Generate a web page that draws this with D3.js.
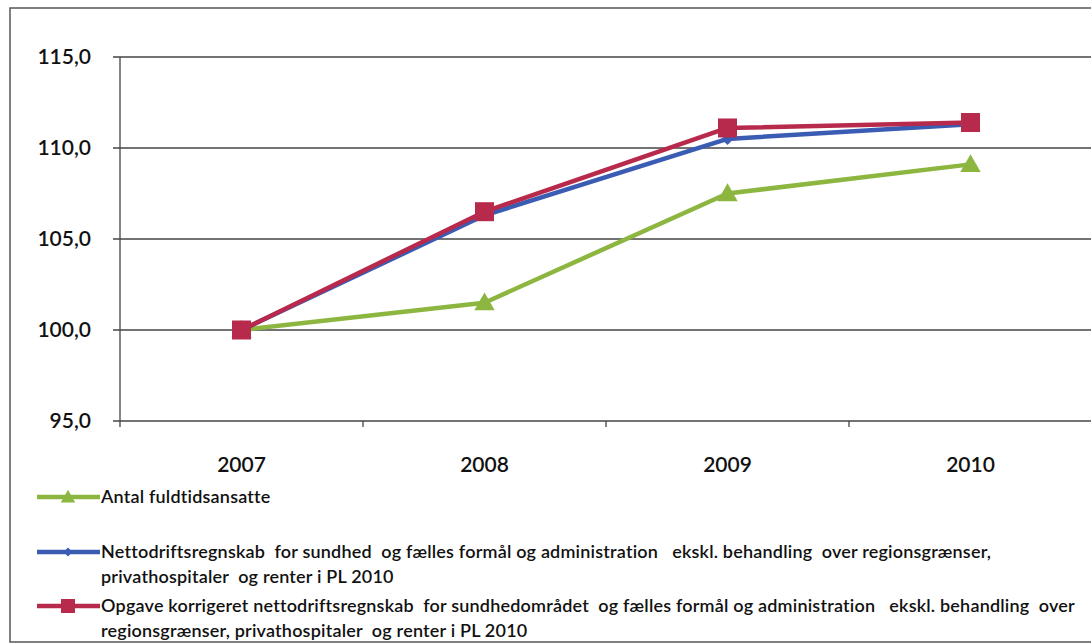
<!DOCTYPE html>
<html>
<head>
<meta charset="utf-8">
<script src="https://cdn.jsdelivr.net/npm/d3@7"></script>
<style>
  body { margin: 0; background: #fff; }
  svg { display: block; font-family: Lato, "Open Sans", sans-serif; }
  .tick-label { font-size: 21px; fill: #111; font-weight: 600; }
  .legend-text { font-size: 18px; fill: #111; font-weight: 600; white-space: pre; letter-spacing: 0.2px; }
</style>
</head>
<body>
<svg id="chart" width="1091" height="644"></svg>
<script>
// data
const years = ['2007', '2008', '2009', '2010']
const yTicks = [95, 100, 105, 110, 115]
const ansatte = [100.0, 101.5, 107.5, 109.1]
const netto = [100.0, 106.3, 110.5, 111.3]
const opgave = [100.0, 106.5, 111.1, 111.4]

const seriesList = [
  { name: ['Antal fuldtidsansatte'], values: ansatte, color: '#8cb640', marker: 'triangle' },
  { name: ['Nettodriftsregnskab  for sundhed  og fælles formål og administration   ekskl. behandling  over regionsgrænser,',
           'privathospitaler  og renter i PL 2010'], values: netto, color: '#3a5cb3', marker: 'diamond' },
  { name: ['Opgave korrigeret nettodriftsregnskab  for sundhedområdet  og fælles formål og administration   ekskl. behandling  over',
           'regionsgrænser, privathospitaler  og renter i PL 2010'], values: opgave, color: '#b72a4c', marker: 'square' }
]

const svg = d3.select('#chart')

// outer frame
svg.append('rect')
  .attr('x', 10).attr('y', 8)
  .attr('width', 1100).attr('height', 634)
  .attr('fill', 'none').attr('stroke', '#555').attr('stroke-width', 1.5)

////////////////////////// SCALES //////////////////////////

const plotLeft = 120, plotRight = 1092
const xScale = d3.scaleBand().domain(years).range([plotLeft, plotRight])
const yScale = d3.scaleLinear().domain([95, 115]).range([421, 57])

// grid
svg.append('g')
  .selectAll('line')
  .data(yTicks)
  .join('line')
  .attr('x1', plotLeft - 7).attr('x2', 1091)
  .attr('y1', d => yScale(d)).attr('y2', d => yScale(d))
  .attr('stroke', '#444').attr('stroke-width', 1.3)

// y axis line
svg.append('line')
  .attr('x1', plotLeft).attr('x2', plotLeft)
  .attr('y1', yScale(115)).attr('y2', yScale(95) + 6)
  .attr('stroke', '#444').attr('stroke-width', 1.3)

// x ticks at band boundaries
const xBounds = years.map(d => xScale(d)).concat([plotRight])
svg.append('g')
  .selectAll('line')
  .data(xBounds.slice(1))
  .join('line')
  .attr('x1', d => d).attr('x2', d => d)
  .attr('y1', yScale(95)).attr('y2', yScale(95) + 6)
  .attr('stroke', '#444').attr('stroke-width', 1.3)

// y labels
svg.append('g')
  .selectAll('text')
  .data(yTicks)
  .join('text')
  .attr('class', 'tick-label')
  .attr('x', 91).attr('y', d => yScale(d) + 7)
  .attr('text-anchor', 'end')
  .text(d => d.toFixed(1).replace('.', ','))

// x labels
svg.append('g')
  .selectAll('text')
  .data(years)
  .join('text')
  .attr('class', 'tick-label')
  .attr('x', d => xScale(d) + xScale.bandwidth() / 2)
  .attr('y', 472)
  .attr('text-anchor', 'middle')
  .text(d => d)

////////////////////////// MARKERS //////////////////////////

const drawMarker = (g, type, x, y, color, s) => {
  if (type === 'square') {
    g.append('rect').attr('x', x - s / 2).attr('y', y - s / 2)
      .attr('width', s).attr('height', s).attr('fill', color)
  } else if (type === 'triangle') {
    g.append('path')
      .attr('d', `M${x},${y - s * 0.6}L${x + s * 0.6},${y + s * 0.45}L${x - s * 0.6},${y + s * 0.45}Z`)
      .attr('fill', color)
  } else {
    g.append('path')
      .attr('d', `M${x},${y - s / 2}L${x + s / 2},${y}L${x},${y + s / 2}L${x - s / 2},${y}Z`)
      .attr('fill', color)
  }
}

const line = d3.line()
  .x((d, i) => xScale(years[i]) + xScale.bandwidth() / 2)
  .y(d => yScale(d))

seriesList.forEach(s => {
  const g = svg.append('g')
  g.append('path')
    .datum(s.values)
    .attr('d', line)
    .attr('fill', 'none')
    .attr('stroke', s.color)
    .attr('stroke-width', 4.5)
    .attr('stroke-linejoin', 'round')
  s.values.forEach((v, i) => {
    const size = s.marker === 'square' ? 19 : (s.marker === 'triangle' ? 17 : 12)
    drawMarker(g, s.marker, xScale(years[i]) + xScale.bandwidth() / 2, yScale(v), s.color, size)
  })
})

////////////////////////// LEGEND //////////////////////////

const legendY = [497, 552, 606]
seriesList.forEach((s, i) => {
  const g = svg.append('g')
  const y = legendY[i]
  g.append('line')
    .attr('x1', 37).attr('x2', 100)
    .attr('y1', y).attr('y2', y)
    .attr('stroke', s.color).attr('stroke-width', 4.5)
  const size = s.marker === 'square' ? 14 : (s.marker === 'triangle' ? 12 : 9)
  drawMarker(g, s.marker, 68, y, s.color, size)
  s.name.forEach((t, j) => {
    g.append('text')
      .attr('class', 'legend-text')
      .attr('x', 101)
      .attr('y', y + 6 + j * 25)
      .text(t)
  })
})
</script>
</body>
</html>
